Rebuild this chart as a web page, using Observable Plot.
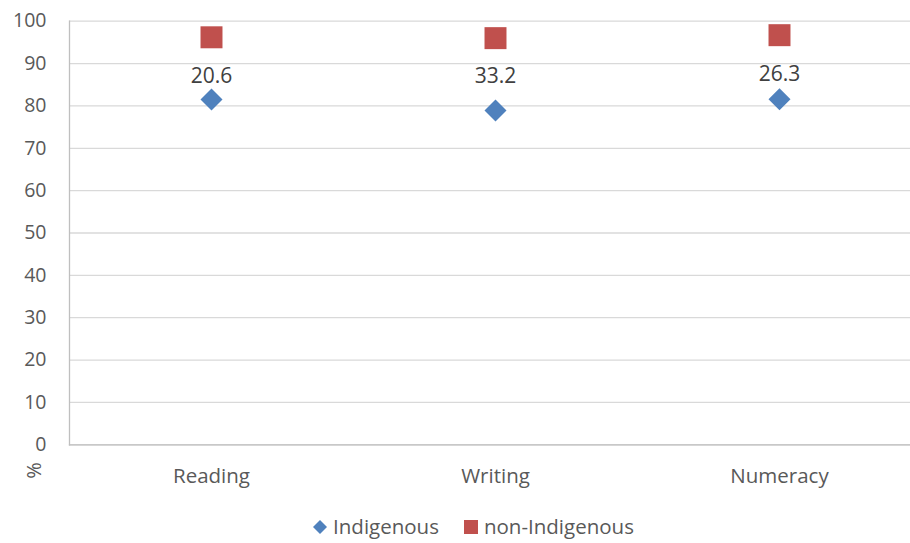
<!DOCTYPE html>
<html>
<head>
<meta charset="utf-8">
<script src="https://cdn.jsdelivr.net/npm/d3@7"></script>
<script src="https://cdn.jsdelivr.net/npm/@observablehq/plot@0.6"></script>
<style>
  html, body { margin: 0; padding: 0; background: #fff; }
  body { width: 910px; font-family: "Open Sans", sans-serif; }
  #legend { display: flex; justify-content: center; align-items: center; height: 38px; padding-top: 5px; box-sizing: border-box; font-size: 20.5px; line-height: 1; color: #595959; margin-left: 36px; }
  #legend .item { display: flex; align-items: center; margin: 0 12px; }
  #legend svg { margin-right: 5px; }
</style>
</head>
<body>
<div id="chart"></div>
<div id="legend"></div>
<script>
// Share of students at or above the national minimum standard, by domain
const categories = ["Reading", "Writing", "Numeracy"];
const indigenous = [81.5, 78.9, 81.6];
const nonIndigenous = [96.2, 96.0, 96.7];
// Gap labels and the value height at which each label sits
const gapLabels = ["20.6", "33.2", "26.3"];
const gapLabelY = [86.9, 86.9, 87.4];
const yTicks = [0, 10, 20, 30, 40, 50, 60, 70, 80, 90, 100];

const series = [
  {name: "Indigenous", values: indigenous, color: "#4F81BD", symbol: "diamond2", r: 9.9},
  {name: "non-Indigenous", values: nonIndigenous, color: "#C0504D", symbol: "square", r: 12.4}
];

const rows = series.flatMap(s => categories.map((c, i) => ({category: c, value: s.values[i], series: s.name})));
const labels = categories.map((c, i) => ({category: c, y: gapLabelY[i], text: gapLabels[i]}));

const chart = Plot.plot({
  width: 910,
  height: 505,
  marginLeft: 69,
  marginRight: -11,
  marginTop: 20.7,
  marginBottom: 60.7,
  style: {fontFamily: "Open Sans, sans-serif", fontSize: "19px", color: "#595959", background: "#fff", overflow: "hidden"},
  x: {type: "point", domain: categories, padding: 0.5, label: null},
  y: {domain: [0, 100], label: null},
  symbol: {domain: series.map(s => s.name), range: series.map(s => s.symbol)},
  color: {domain: series.map(s => s.name), range: series.map(s => s.color)},
  marks: [
    Plot.gridY(yTicks, {stroke: "#D9D9D9", strokeOpacity: 1, strokeWidth: 1.3}),
    Plot.axisY(yTicks, {tickSize: 0, tickPadding: 23, fontSize: 19.5, fill: "#595959", label: null}),
    Plot.axisX({tickSize: 0, tickPadding: 24, fontSize: 20.5, fill: "#595959", label: null}),
    Plot.frame({anchor: "left", stroke: "#BFBFBF", strokeWidth: 1.3}),
    Plot.frame({anchor: "bottom", stroke: "#BFBFBF", strokeWidth: 1.3}),
    ...series.map(s => Plot.dot(rows.filter(d => d.series === s.name), {
      x: "category", y: "value", symbol: "series", fill: "series", r: s.r, stroke: null
    })),
    Plot.text(labels, {x: "category", y: "y", text: "text", fontSize: 21, fill: "#404040"}),
    Plot.text(["%"], {frameAnchor: "bottom-left", dx: -29, dy: 34, rotate: -90, fontSize: 20, fill: "#595959"})
  ]
});
document.getElementById("chart").appendChild(chart);

// Legend built from the same series definitions
const legend = d3.select("#legend");
series.forEach(s => {
  const item = legend.append("div").attr("class", "item");
  const svg = item.append("svg").attr("width", 16).attr("height", 16);
  if (s.symbol === "diamond2") {
    svg.append("path").attr("d", "M8,1L15,8L8,15L1,8Z").attr("fill", s.color);
  } else {
    svg.append("rect").attr("x", 1).attr("y", 1).attr("width", 14).attr("height", 14).attr("fill", s.color);
  }
  item.append("span").text(s.name);
});
</script>
</body>
</html>
